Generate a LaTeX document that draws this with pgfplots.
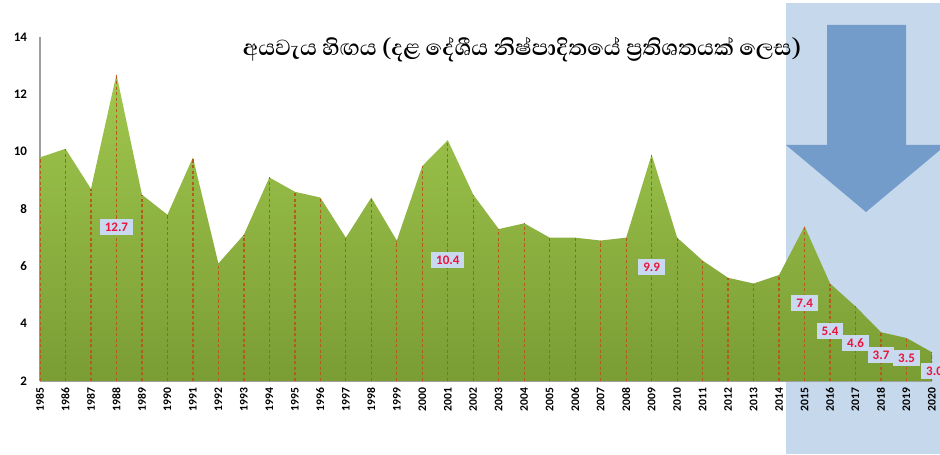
\documentclass[border=0pt]{standalone}
\usepackage{fontspec}
\setmainfont{Carlito}
\newfontfamily\sinhalafont[Script=Sinhala]{Abhaya Libre}
\usepackage{pgfplots}
\pgfplotsset{compat=1.18}

\definecolor{panelblue}{RGB}{198,216,236}
\definecolor{arrowblue}{RGB}{115,156,203}
\definecolor{greentop}{RGB}{160,199,78}
\definecolor{greenbot}{RGB}{122,157,52}
\definecolor{dropline}{RGB}{178,92,32}
\definecolor{lblred}{RGB}{235,20,60}
\definecolor{lblfill}{RGB}{200,217,240}

\pgfplotstableread{
year deficit
1985 9.8
1986 10.1
1987 8.7
1988 12.7
1989 8.5
1990 7.8
1991 9.8
1992 6.1
1993 7.1
1994 9.1
1995 8.6
1996 8.4
1997 7.0
1998 8.4
1999 6.9
2000 9.5
2001 10.4
2002 8.5
2003 7.3
2004 7.5
2005 7.0
2006 7.0
2007 6.9
2008 7.0
2009 9.9
2010 7.0
2011 6.2
2012 5.6
2013 5.4
2014 5.7
2015 7.4
2016 5.4
2017 4.6
2018 3.7
2019 3.5
2020 3.0
}\deficit

\begin{document}
\begin{tikzpicture}[x=0.5pt,y=0.5pt,
  lbl/.style={fill=lblfill, text=lblred, font=\bfseries\fontsize{6.5}{7}\selectfont,
    inner xsep=2.5pt, inner ysep=1.8pt}]
\useasboundingbox (0,0) rectangle (940,454);
% shaded panel and arrow behind the chart
\fill[panelblue] (786,0) rectangle (940,451);
\fill[arrowblue] (827,429) -- (906,429) -- (906,309) -- (946,309)
  -- (866,242) -- (786,309) -- (827,309) -- cycle;

\begin{axis}[
    at={(20pt,36.5pt)}, anchor=south west,
    scale only axis, width=446pt, height=172pt,
    xmin=1985, xmax=2020, ymin=2, ymax=14,
    clip mode=individual,
    xtick={1985,...,2020}, ytick={2,4,...,14},
    axis x line=bottom, axis y line=left,
    axis line style={-, draw=gray!75, line width=1.3pt},
    major tick length=0pt,
    /pgf/number format/assume math mode=true,
    xticklabel style={rotate=90, anchor=east, font=\bfseries\fontsize{5.8}{6}\selectfont,
      /pgf/number format/1000 sep={}},
    yticklabel style={font=\bfseries\fontsize{6.5}{7}\selectfont, xshift=-3pt},
]
\addplot[draw=none, top color=greentop, bottom color=greenbot] table[x=year, y=deficit] {\deficit} \closedcycle;
\addplot[ycomb, dropline, dash pattern=on 1.6pt off 1.2pt, line width=0.65pt] table[x=year, y=deficit] {\deficit};

\node[lbl] at (axis cs:1988,7.37) {12.7};
\node[lbl] at (axis cs:2001,6.22) {10.4};
\node[lbl] at (axis cs:2009,5.98) {9.9};
\node[lbl] at (axis cs:2015,4.72) {7.4};
\node[lbl] at (axis cs:2016,3.74) {5.4};
\node[lbl] at (axis cs:2017,3.33) {4.6};
\node[lbl] at (axis cs:2018,2.90) {3.7};
\node[lbl] at (axis cs:2019,2.80) {3.5};
\node[lbl] at (axis cs:2020.1,2.35) {3.0};
\end{axis}

\node[font=\sinhalafont\bfseries\fontsize{14}{16}\selectfont] at (522,404)
  {අයවැය හිඟය (දළ දේශීය නිෂ්පාදිතයේ ප්‍රතිශතයක් ලෙස)};
\end{tikzpicture}
\end{document}
